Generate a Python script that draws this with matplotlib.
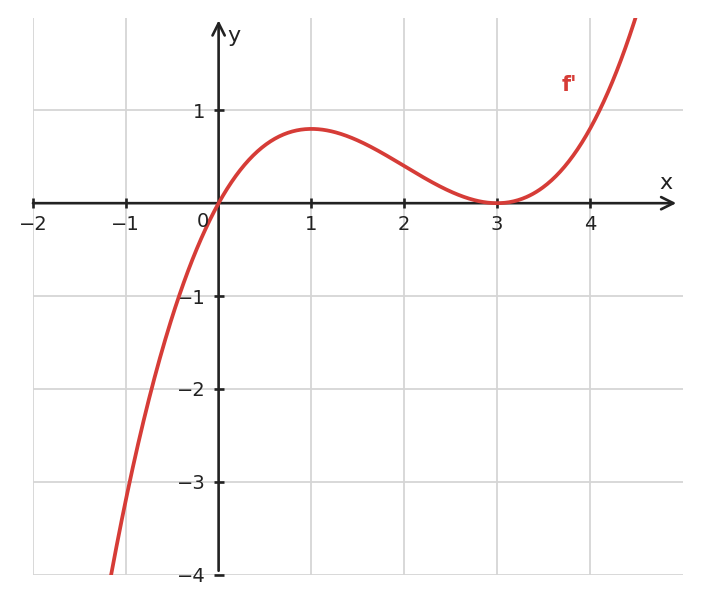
import numpy as np
import matplotlib.pyplot as plt

# f'(x) = 0.2 x (x - 3)^2, polynomial coefficients, highest power first
coeffs = [0.2, -1.2, 1.8, 0.0]
x_range = [-2, 5]
y_range = [-4, 2]
x_ticks = [-2, -1, 1, 2, 3, 4]
y_ticks = [-4, -3, -2, -1, 1]
curve_label = "f'"

red = '#d63c37'
dark = '#222222'

fig = plt.figure(figsize=(7.01, 6.03), dpi=100)
ax = fig.add_axes([0.047, 0.0464, 0.927, 0.9254])

xs = np.linspace(x_range[0], x_range[1], 600)
ax.plot(xs, np.polyval(coeffs, xs), color=red, lw=2.7, zorder=3)

ax.set_xlim(x_range)
ax.set_ylim(y_range)
ax.set_aspect('equal')

# axes through the origin
for side in ['left', 'bottom']:
    ax.spines[side].set_position('zero')
    ax.spines[side].set_visible(False)
for side in ['right', 'top']:
    ax.spines[side].set_visible(False)

ax.annotate('', xy=(4.93, 0), xytext=(-2, 0),
            arrowprops=dict(arrowstyle='->', color=dark, lw=1.9,
                            mutation_scale=22, shrinkA=0, shrinkB=0), zorder=2)
ax.annotate('', xy=(0, 1.97), xytext=(0, -3.96),
            arrowprops=dict(arrowstyle='->', color=dark, lw=1.9,
                            mutation_scale=22, shrinkA=0, shrinkB=0), zorder=2)

ax.set_xticks(x_ticks)
ax.set_yticks(y_ticks)
ax.set_xticklabels([str(t).replace('-', '\u2212') for t in x_ticks])
ax.set_yticklabels([str(t).replace('-', '\u2212') for t in y_ticks])
ax.tick_params(direction='inout', length=7, width=1.9, color=dark,
               labelsize=14, labelcolor=dark)
ax.tick_params(axis='x', pad=5)
ax.tick_params(axis='y', pad=6)

ax.text(-0.17, -0.2, '0', fontsize=14, color=dark, ha='center', va='center')

ax.grid(True, color='#d5d5d5', lw=1.3, zorder=0)
ax.set_axisbelow(True)

ax.text(4.82, 0.22, 'x', fontsize=16, color=dark, ha='center', va='center')
ax.text(0.17, 1.8, 'y', fontsize=16, color=dark, ha='center', va='center')
ax.text(3.78, 1.27, curve_label, fontsize=15, color=red, fontweight='bold',
        ha='center', va='center')

fig.savefig('out.png', dpi=100)
